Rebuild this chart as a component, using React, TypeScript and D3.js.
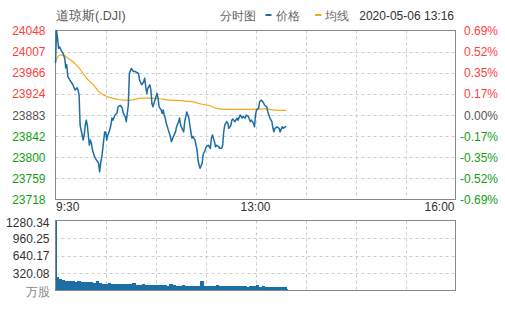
import React from "react";
import * as d3 from "d3";

// ---- data ----
const priceTimes = [0,1,2,3,4,6,7,9,10,11,12,14,16,17,19,21,22,23,24,26,27,28,29,30,31,32,33,34,35,36,38,40,42,43,44,45,46,47,48,49,50,51,52,54,55,56,58,60,61,63,65,66,68,69,71,72,74,75,76,78,79,81,82,84,86,87,88,89,90,92,93,94,95,96,98,99,100,101,102,103,104,105,106,107,108,110,112,113,115,117,118,120,121,122,124,125,126,128,129,130,131,132,133,134,136,138,139,140,141,143,144,146,147,149,151,152,153,155,156,157,159,160,162,163,164,165,167,168,169,171,172,173,175,177,178,180,182,183,185,186,188,190,191,193,194,195,196,198,199,201,203,204,206,207,209,211,212,213,214,216,218,219,221,222,224,225];
const prices = [23984,24048,24033,24013,24016,24007,24005,23994,23975,23981,23958,23951,23945,23942,23932,23936,23932,23922,23863,23844,23834,23844,23863,23873,23863,23844,23824,23834,23828,23815,23802,23795,23789,23772,23789,23799,23815,23834,23850,23850,23834,23844,23848,23863,23877,23873,23883,23887,23899,23902,23897,23887,23880,23870,23902,23964,23974,23971,23968,23968,23966,23964,23951,23942,23948,23955,23938,23925,23935,23942,23932,23906,23899,23906,23919,23925,23916,23899,23896,23893,23886,23893,23883,23877,23867,23854,23841,23831,23841,23850,23860,23870,23877,23863,23854,23850,23870,23889,23883,23877,23863,23850,23838,23841,23834,23815,23795,23785,23779,23789,23806,23815,23821,23824,23818,23838,23844,23831,23821,23824,23821,23818,23818,23824,23850,23863,23870,23867,23857,23863,23873,23875,23870,23877,23873,23883,23877,23880,23877,23883,23880,23870,23873,23867,23860,23883,23893,23896,23909,23912,23906,23902,23899,23889,23877,23870,23857,23850,23857,23860,23857,23850,23860,23857,23860,23860];

const avgTimes = [0,4,8,12,17,22,27,32,37,42,47,53,60,66,73,84,94,104,113,123,133,143,151,157,167,186,206,211,225];
const avgPrices = [23987,24000,24000,23994,23987,23977,23964,23951,23942,23929,23922,23917,23914,23912,23912,23916,23916,23914,23912,23911,23909,23904,23901,23896,23894,23894,23895,23893,23892];

const volTimes = [0,1,3,6,9,12,15,18,21,24,27,30,33,36,39,42,45,48,51,54,57,60,63,66,69,72,75,78,81,84,87,90,93,96,99,102,105,108,111,114,117,120,123,126,129,132,135,138,141,144,147,150,153,156,159,162,165,168,171,174,177,180,183,186,189,192,195,198,201,204,207,210,213,216,219,222,225];
const volumes = [1280,240,205,190,178,172,166,160,168,152,158,162,150,146,175,136,128,124,132,120,116,126,114,120,110,118,142,108,104,112,100,106,98,102,95,92,98,90,112,108,88,86,92,84,88,82,86,90,165,84,80,86,78,98,82,80,76,84,78,80,74,82,76,72,78,74,96,70,74,68,72,66,70,62,64,56,30];

const priceTicks = ["24048","24007","23966","23924","23883","23842","23800","23759","23718"];
const pctTicks = ["0.69%","0.52%","0.35%","0.17%","0.00%","-0.17%","-0.35%","-0.52%","-0.69%"];
const volTicks = ["1280.34","960.25","640.17","320.08"];
const timeTicks = ["9:30","13:00","16:00"];
const timeTickMinutes = [0, 195, 390];

// ---- layout ----
const W = 505, H = 310;
const L = 55.5, R = 455.5;
const PT = 30.5, PB = 199.5;
const VT = 220.5, VB = 290.5;
const RED = "#ff4040", GREEN = "#13a013", GRAY = "#555";
const BLUE = "#1d6ea5", ORANGE = "#f7a81b";
const FONT = "'Liberation Sans', Arial, sans-serif";

export default function App() {
  const x = d3.scaleLinear().domain([0, 390]).range([L, R]);
  const y = d3.scaleLinear().domain([23718, 24048]).range([PB, PT]);
  const yv = d3.scaleLinear().domain([0, 1280.34]).range([VB, VT]);

  const priceLine = d3.line<number>().x((_, i) => x(priceTimes[i])).y((d) => y(d))(prices) || "";
  const avgLine = d3.line<number>().x((_, i) => x(avgTimes[i])).y((d) => y(d)).curve(d3.curveMonotoneX)(avgPrices) || "";

  const vGrid = d3.range(1, 8).map((i) => Math.round(x((390 / 8) * i)) + 0.5);
  const pGrid = d3.range(1, 8).map((i) => PT + ((PB - PT) / 8) * i);
  const vGridH = d3.range(1, 4).map((i) => VT + ((VB - VT) / 4) * i);

  const tickColor = (i: number) => (i < 4 ? RED : i === 4 ? GRAY : GREEN);

  return (
    <svg width={W} height={H} style={{ position: "absolute", left: 0, top: 0, background: "#fff" }} fontFamily={FONT}>
      {/* header */}
      <text x={56} y={20} fontSize={12.5} fill="#555">道琼斯(.DJI)</text>
      <text x={220} y={20} fontSize={12} fill="#666">分时图</text>
      <line x1={265.5} x2={271.5} y1={15} y2={15} stroke={BLUE} strokeWidth={2} />
      <text x={276} y={20} fontSize={12} fill="#666">价格</text>
      <line x1={315} x2={321.5} y1={15} y2={15} stroke={ORANGE} strokeWidth={2} />
      <text x={325} y={20} fontSize={12} fill="#666">均线</text>
      <text x={454} y={20} fontSize={12} fill="#333" textAnchor="end">2020-05-06 13:16</text>

      {/* price grid */}
      {pGrid.map((g, i) => (
        <line key={"pg" + i} x1={L} x2={R} y1={Math.round(g) + 0.5} y2={Math.round(g) + 0.5} stroke="#ccc" strokeDasharray="3,3" />
      ))}
      {vGrid.map((g, i) => (
        <line key={"vg" + i} x1={g} x2={g} y1={PT} y2={PB} stroke="#ccc" strokeDasharray="3,3" />
      ))}
      <rect x={L} y={PT} width={R - L} height={PB - PT} fill="none" stroke="#888" />

      {/* price axis labels */}
      {priceTicks.map((t, i) => (
        <text key={"pt" + i} x={45.5} y={PT + ((PB - PT) / 8) * i + 4.5} fontSize={12} textAnchor="end" fill={tickColor(i)}>{t}</text>
      ))}
      {pctTicks.map((t, i) => (
        <text key={"pc" + i} x={498} y={PT + ((PB - PT) / 8) * i + 4.5} fontSize={12} textAnchor="end" fill={tickColor(i)}>{t}</text>
      ))}

      {/* lines */}
      <path d={avgLine} fill="none" stroke={ORANGE} strokeWidth={1.2} />
      <path d={priceLine} fill="none" stroke={BLUE} strokeWidth={1.5} strokeLinejoin="round" />

      {/* time labels */}
      {timeTicks.map((t, i) => (
        <text key={"tt" + i} x={x(timeTickMinutes[i]) + (i === 0 ? 0.5 : i === 2 ? -1 : 0)} y={211} fontSize={12} fill="#333"
          textAnchor={i === 0 ? "start" : i === 1 ? "middle" : "end"}>{t}</text>
      ))}

      {/* volume */}
      {vGridH.map((g, i) => (
        <line key={"vh" + i} x1={L} x2={R} y1={Math.round(g) + 0.5} y2={Math.round(g) + 0.5} stroke="#ccc" strokeDasharray="3,3" />
      ))}
      {vGrid.map((g, i) => (
        <line key={"vv" + i} x1={g} x2={g} y1={VT} y2={VB} stroke="#ccc" strokeDasharray="3,3" />
      ))}
      <g shapeRendering="crispEdges">
        {volumes.map((v, i) => {
          const x0 = x(volTimes[i]);
          const x1 = i < volTimes.length - 1 ? x(volTimes[i + 1]) : x(volTimes[i] + 1);
          return <rect key={"vb" + i} x={x0} y={yv(v)} width={Math.max(1, x1 - x0 + 0.6)} height={VB - yv(v)} fill={BLUE} />;
        })}
      </g>
      <rect x={L} y={VT} width={R - L} height={VB - VT} fill="none" stroke="#888" />
      {volTicks.map((t, i) => (
        <text key={"vt" + i} x={49.5} y={Math.max(VT + ((VB - VT) / 4) * i + 4.5, 226.5)} fontSize={12} textAnchor="end" fill="#333">{t}</text>
      ))}
      <text x={49.5} y={296} fontSize={12} textAnchor="end" fill="#888">万股</text>
    </svg>
  );
}
